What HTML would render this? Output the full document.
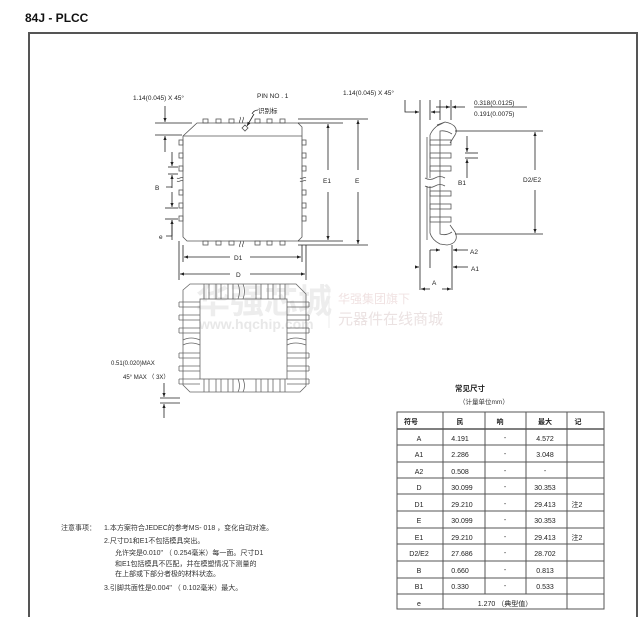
<!DOCTYPE html>
<html><head><meta charset="utf-8"><style>
html,body{margin:0;padding:0;background:#fff;}
svg{display:block;font-family:"Liberation Sans","Noto Sans CJK SC",sans-serif;}
</style></head><body>
<svg width="640" height="617" viewBox="0 0 640 617" xmlns="http://www.w3.org/2000/svg">
<defs>
<marker id="ar" viewBox="0 0 10 10" refX="10" refY="5" markerWidth="6" markerHeight="5" orient="auto-start-reverse"><path d="M0,1 L10,5 L0,9 z" fill="#222"/></marker>
</defs>
<text x="25" y="22" font-size="12" font-weight="bold" fill="#111">84J - PLCC</text>
<path d="M29,617 V33 H637 V617" fill="none" stroke="#555" stroke-width="2"/>

<!-- watermark -->
<g>
<text x="196" y="313" font-size="34" font-weight="bold" fill="#ededed">华强芯城</text>
<text x="199" y="329" font-size="14" font-weight="bold" fill="#e8e8e8">www.hqchip.com</text>
<line x1="329" y1="288" x2="329" y2="328" stroke="#ececec"/>
<text x="338" y="303" font-size="12" fill="#f0e2e2">华强集团旗下</text>
<text x="338" y="324" font-size="15" fill="#ebe2e2">元器件在线商城</text>
</g>

<g stroke="#555" stroke-width="0.8" fill="none">
<path d="M197,123 H298 L302,127 V237 L298,241 H187 L183,237 V136 Z"/>
<line x1="183" y1="136" x2="302" y2="136"/>
<path d="M245,125 l3,3 l-3,3 l-3,-3 z"/>
<g>
<rect x="203" y="119" width="5" height="4"/><rect x="216" y="119" width="5" height="4"/><rect x="229" y="119" width="5" height="4"/>
<rect x="255" y="119" width="5" height="4"/><rect x="267" y="119" width="5" height="4"/><rect x="280" y="119" width="5" height="4"/>
<rect x="203" y="241" width="5" height="4"/><rect x="216" y="241" width="5" height="4"/><rect x="229" y="241" width="5" height="4"/>
<rect x="255" y="241" width="5" height="4"/><rect x="267" y="241" width="5" height="4"/><rect x="280" y="241" width="5" height="4"/>
<rect x="179" y="140" width="4" height="5"/><rect x="179" y="153" width="4" height="5"/><rect x="179" y="166" width="4" height="5"/>
<rect x="179" y="190" width="4" height="5"/><rect x="179" y="203" width="4" height="5"/><rect x="179" y="216" width="4" height="5"/>
<rect x="302" y="140" width="4" height="5"/><rect x="302" y="153" width="4" height="5"/><rect x="302" y="166" width="4" height="5"/>
<rect x="302" y="190" width="4" height="5"/><rect x="302" y="203" width="4" height="5"/><rect x="302" y="216" width="4" height="5"/>
</g>
<path d="M240,117 c2,2 -2,4 0,6 M243,117 c2,2 -2,4 0,6 M240,241 c2,2 -2,4 0,6 M243,241 c2,2 -2,4 0,6"/>
<path d="M177,178 c2,2 4,-2 6,0 M177,181 c2,2 4,-2 6,0 M300,178 c2,2 4,-2 6,0 M300,181 c2,2 4,-2 6,0"/>
</g>

<g stroke="#222" stroke-width="0.8" fill="none">
<line x1="298" y1="119" x2="368" y2="119"/><line x1="298" y1="123" x2="343" y2="123"/>
<line x1="298" y1="241" x2="343" y2="241"/><line x1="298" y1="245" x2="368" y2="245"/>
<line x1="328" y1="170" x2="328" y2="124" marker-end="url(#ar)"/><line x1="328" y1="192" x2="328" y2="240" marker-end="url(#ar)"/>
<line x1="358" y1="170" x2="358" y2="120" marker-end="url(#ar)"/><line x1="358" y1="192" x2="358" y2="244" marker-end="url(#ar)"/>
<line x1="179" y1="241" x2="179" y2="280"/><line x1="183" y1="245" x2="183" y2="262"/>
<line x1="302" y1="245" x2="302" y2="262"/><line x1="306" y1="245" x2="306" y2="280"/>
<line x1="230" y1="257" x2="184" y2="257" marker-end="url(#ar)"/><line x1="250" y1="257" x2="301" y2="257" marker-end="url(#ar)"/>
<line x1="230" y1="274" x2="180" y2="274" marker-end="url(#ar)"/><line x1="250" y1="274" x2="305" y2="274" marker-end="url(#ar)"/>
<line x1="155" y1="123" x2="192" y2="123"/><line x1="155" y1="135" x2="182" y2="135"/>
<line x1="165" y1="106" x2="165" y2="122" marker-end="url(#ar)"/><line x1="165" y1="152" x2="165" y2="136" marker-end="url(#ar)"/>
<line x1="168" y1="167" x2="178" y2="167"/><line x1="168" y1="174" x2="178" y2="174"/>
<line x1="172" y1="152" x2="172" y2="166" marker-end="url(#ar)"/><line x1="172" y1="188" x2="172" y2="175" marker-end="url(#ar)"/>
<line x1="165" y1="208" x2="178" y2="208"/><line x1="165" y1="219" x2="178" y2="219"/>
<line x1="172" y1="192" x2="172" y2="207" marker-end="url(#ar)"/><line x1="172" y1="240" x2="172" y2="220" marker-end="url(#ar)"/>
<path d="M166,187 H172 M166,236 H172 M172,220 V236"/>
<path d="M258,110 c-3,0 -5,2 -6,4 M254,114 L247,126" marker-end="url(#ar)"/>
</g>
<g font-size="6.5" fill="#222">
<text x="133" y="100">1.14(0.045) X 45°</text>
<text x="257" y="98">PIN NO .  1</text>
<text x="258" y="113">识别标</text>
<text x="323" y="183">E1</text><text x="355" y="183">E</text>
<text x="234" y="260">D1</text><text x="236" y="277">D</text>
<text x="155" y="190">B</text><text x="159" y="239">e</text>
<text x="343" y="95">1.14(0.045) X 45°</text>
</g>

<g stroke="#555" stroke-width="0.8" fill="none">
<path d="M437,125 L445,122 C456,124 458,130 455,135 L450,143 M445,122 L437,126 Q432,130 430,135 V178 M430,186 V233 Q432,240 440,244 L447,245 C456,244 458,238 455,232 L450,225"/>
<path d="M452,134 Q446,130 440,131 V234 Q446,236 452,232"/>
<line x1="427" y1="137" x2="427" y2="178"/><line x1="427" y1="186" x2="427" y2="240"/>
<path d="M425,178 q5,3 10,0 q5,-3 10,0 M425,186 q5,3 10,0 q5,-3 10,0"/>
<g>
<rect x="430" y="140" width="21" height="5"/><rect x="430" y="153" width="21" height="5"/><rect x="430" y="166" width="21" height="5"/>
<rect x="430" y="191" width="21" height="5"/><rect x="430" y="204" width="21" height="5"/><rect x="430" y="217" width="21" height="5"/>
</g>
</g>
<g stroke="#222" stroke-width="0.8" fill="none">
<line x1="420" y1="100" x2="420" y2="290"/><line x1="430" y1="100" x2="430" y2="120"/>
<line x1="440" y1="100" x2="440" y2="120"/><line x1="451" y1="100" x2="451" y2="120"/><line x1="452" y1="245" x2="452" y2="290"/>
<path d="M405,100 V112 H419" marker-end="url(#ar)"/>
<line x1="440" y1="112" x2="431" y2="112" marker-end="url(#ar)"/>
<line x1="436" y1="107" x2="450" y2="107" marker-end="url(#ar)"/><line x1="465" y1="107" x2="452" y2="107" marker-end="url(#ar)"/>
<line x1="474" y1="107" x2="527" y2="107"/>
<line x1="455" y1="131" x2="543" y2="131"/><line x1="455" y1="234" x2="543" y2="234"/>
<line x1="535" y1="170" x2="535" y2="132" marker-end="url(#ar)"/><line x1="535" y1="190" x2="535" y2="233" marker-end="url(#ar)"/>
<line x1="465" y1="153" x2="478" y2="153"/><line x1="465" y1="158" x2="478" y2="158"/>
<line x1="467" y1="136" x2="467" y2="152" marker-end="url(#ar)"/><line x1="467" y1="178" x2="467" y2="159" marker-end="url(#ar)"/>
<line x1="430" y1="250" x2="440" y2="250" marker-end="url(#ar)"/><line x1="430" y1="250" x2="430" y2="268"/>
<line x1="468" y1="250" x2="453" y2="250" marker-end="url(#ar)"/>
<line x1="415" y1="267" x2="419" y2="267" marker-end="url(#ar)"/><line x1="468" y1="267" x2="453" y2="267" marker-end="url(#ar)"/>
<line x1="430" y1="289" x2="421" y2="289" marker-end="url(#ar)"/><line x1="442" y1="289" x2="451" y2="289" marker-end="url(#ar)"/>
</g>
<g font-size="6.5" fill="#222">
<text x="474" y="105">0.318(0.0125)</text>
<text x="474" y="116">0.191(0.0075)</text>
<text x="458" y="185">B1</text>
<text x="523" y="182">D2/E2</text>
<text x="470" y="254">A2</text><text x="471" y="271">A1</text>
<text x="432" y="285">A</text>
</g>

<g stroke="#666" stroke-width="0.8" fill="none">
<path d="M190,284 H296 L306,294 V386 L300,392 H190 L183,385 V290 Z"/>
<rect x="200" y="299" width="87" height="80"/>
<g>
<path d="M204,284 V299 M209,284 V299 M216,284 V299 M221,284 V299 M228,284 V299 M233,284 V299 M256,284 V299 M261,284 V299 M268,284 V299 M273,284 V299 M280,284 V299 M285,284 V299"/>
<path d="M204,379 V392 M209,379 V392 M216,379 V392 M221,379 V392 M228,379 V392 M233,379 V392 M256,379 V392 M261,379 V392 M268,379 V392 M273,379 V392 M280,379 V392 M285,379 V392"/>
<path d="M179,302 H200 M179,307 H200 M179,315 H200 M179,320 H200 M179,328 H200 M179,333 H200 M179,353 H200 M179,358 H200 M179,366 H200 M179,371 H200 M179,379 H200 M179,384 H200"/>
<path d="M287,302 H309 M287,307 H309 M287,315 H309 M287,320 H309 M287,328 H309 M287,333 H309 M287,353 H309 M287,358 H309 M287,366 H309 M287,371 H309 M287,379 H309 M287,384 H309"/>
<path d="M179,302 V307 M179,315 V320 M179,328 V333 M179,353 V358 M179,366 V371 M179,379 V384 M309,302 V307 M309,315 V320 M309,328 V333 M309,353 V358 M309,366 V371 M309,379 V384"/>
</g>
<path d="M238,284 q3,7 0,15 M243,284 q3,7 0,15 M238,379 q3,7 0,13 M243,379 q3,7 0,13 M183,340 q8,-4 17,0 M183,345 q8,-4 17,0 M287,340 q8,-4 19,0 M287,345 q8,-4 19,0"/>
</g>
<g stroke="#222" stroke-width="0.8">
<line x1="160" y1="398" x2="180" y2="398"/><line x1="160" y1="403" x2="180" y2="403"/>
<line x1="164" y1="383" x2="164" y2="397" marker-end="url(#ar)"/><line x1="164" y1="418" x2="164" y2="404" marker-end="url(#ar)"/>
</g>
<g font-size="6" fill="#222">
<text x="111" y="365">0.51(0.020)MAX</text>
<text x="123" y="379">45° MAX （ 3X）</text>
</g>

<text x="455" y="391" font-size="7.5" font-weight="bold" fill="#222">常见尺寸</text>
<text x="459" y="404" font-size="6.5" fill="#333">（计量单位mm）</text>
<g stroke="#555" stroke-width="1" fill="none">
<rect x="397" y="412" width="207" height="197"/>
<line x1="397" y1="429" x2="604" y2="429" stroke-width="1.5"/>
<path d="M397,445 H604 M397,462 H604 M397,478 H604 M397,494 H604 M397,511 H604 M397,528 H604 M397,544 H604 M397,561 H604 M397,578 H604 M397,594 H604"/>
<path d="M443,412 V609 M485,412 V594 M526,412 V594 M567,412 V609"/>
</g>
<g font-size="7" fill="#222" text-anchor="middle">
<text x="411" y="424" font-weight="bold">符号</text><text x="460" y="424" font-weight="bold">民</text>
<text x="500" y="424" font-weight="bold">响</text><text x="545" y="424" font-weight="bold">最大</text>
<text x="578" y="424" font-weight="bold">记</text>
<text x="419" y="441">A</text><text x="460" y="441">4.191</text><text x="505" y="440">-</text><text x="545" y="441">4.572</text>
<text x="419" y="457">A1</text><text x="460" y="457">2.286</text><text x="505" y="456">-</text><text x="545" y="457">3.048</text>
<text x="419" y="474">A2</text><text x="460" y="474">0.508</text><text x="505" y="473">-</text><text x="545" y="473">-</text>
<text x="419" y="490">D</text><text x="462" y="490">30.099</text><text x="505" y="489">-</text><text x="545" y="490">30.353</text>
<text x="419" y="507">D1</text><text x="462" y="507">29.210</text><text x="505" y="506">-</text><text x="545" y="507">29.413</text><text x="577" y="507">注2</text>
<text x="419" y="523">E</text><text x="462" y="523">30.099</text><text x="505" y="522">-</text><text x="545" y="523">30.353</text>
<text x="419" y="540">E1</text><text x="462" y="540">29.210</text><text x="505" y="539">-</text><text x="545" y="540">29.413</text><text x="577" y="540">注2</text>
<text x="419" y="556">D2/E2</text><text x="462" y="556">27.686</text><text x="505" y="555">-</text><text x="545" y="556">28.702</text>
<text x="419" y="573">B</text><text x="460" y="573">0.660</text><text x="505" y="572">-</text><text x="545" y="573">0.813</text>
<text x="419" y="589">B1</text><text x="460" y="589">0.330</text><text x="505" y="588">-</text><text x="545" y="589">0.533</text>
<text x="419" y="606">e</text><text x="505" y="606">1.270 （典型值）</text>
</g>

<g font-size="7" fill="#333">
<text x="61" y="530">注意事项：</text>
<text x="104" y="530">1.本方案符合JEDEC的参考MS- 018 ，变化自动对准。</text>
<text x="104" y="543">2.尺寸D1和E1不包括模具突出。</text>
<text x="115" y="555">允许突是0.010"  （ 0.254毫米）每一面。尺寸D1</text>
<text x="115" y="566">和E1包括模具不匹配，并在模塑情况下测量的</text>
<text x="115" y="576">在上部或下部分者极的材料状态。</text>
<text x="104" y="590">3.引脚共面性是0.004"  （ 0.102毫米）最大。</text>
</g>
</svg>
</body></html>
